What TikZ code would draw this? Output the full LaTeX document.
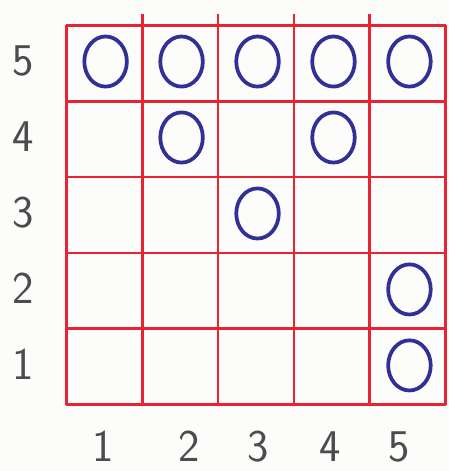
\documentclass[tikz,border=0pt]{standalone}
\usepackage{tikz}
\usetikzlibrary{positioning,calc,shapes.geometric}
\definecolor{penred}{RGB}{232,36,52}
\definecolor{penblue}{RGB}{48,48,150}
\definecolor{paper}{RGB}{252,252,250}
\tikzset{gridline/.style={draw=penred,line width=1.1pt},
ring/.style={draw=penblue,line width=1.4pt,ellipse,minimum width=5.6mm,minimum height=6.6mm,inner sep=0pt},
lab/.style={font=\sffamily\fontsize{17}{20}\selectfont,text=black!70,inner sep=0pt}}

\begin{document}
\begin{tikzpicture}
\fill[paper] (-0.87,-0.87) rectangle (5.04,5.33);
\useasboundingbox (-0.87,-0.87) rectangle (5.04,5.33);
\draw[gridline] (0,0) grid (5,5);
\foreach \i in {1,...,4} \draw[gridline] (\i,5)--(\i,5.15);
% row labels
\foreach \r in {1,...,5} \node[lab] (r\r) at (-0.57,\r-0.47) {\r};
% column labels
\foreach \c/\x in {1/0.49,2/1.62,3/2.53,4/3.48,5/4.39} \node[lab] (c\c) at (\x,-0.55) {\c};
% marks
\foreach \c/\r in {1/5,2/5,3/5,4/5,5/5,2/4,4/4,3/3,5/2,5/1}
  \node[ring] (m\c\r) at (\c-0.48,\r-0.48) {};
\end{tikzpicture}
\end{document}
